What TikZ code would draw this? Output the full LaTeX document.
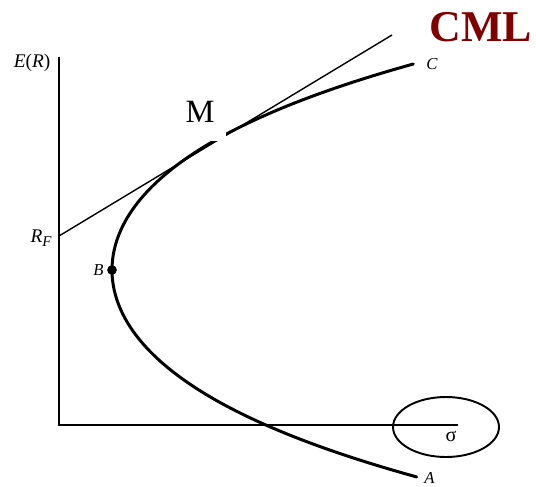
\documentclass[tikz,border=0pt]{standalone}
\usepackage{fontspec}
\setmainfont{Liberation Serif}
\begin{document}
\begin{tikzpicture}[x=0.02cm,y=-0.02cm,
  axisline/.style={line width=1.1pt},
  frontier/.style={line width=1.7pt},
  cmlline/.style={line width=0.8pt},
  lbl/.style={inner sep=0pt, font=\fontsize{9.5pt}{11pt}\selectfont\itshape}]
\useasboundingbox (0,0) rectangle (536,486);
% axes
\coordinate (O) at (59,425);
\coordinate (Ytop) at (59,57);
\coordinate (Xend) at (458,425);
\draw[axisline] (Ytop) -- (O) -- (Xend);
% CML line
\coordinate (RF) at (59,236);
\coordinate (CMLend) at (392,35);
\draw[cmlline] (RF) -- (CMLend);
% frontier
\draw[frontier, line cap=round] plot[domain=-2.06:2.07, samples=120, smooth]
  ({112+54.88*\x*\x+3.8*\x*\x*\x*\x}, {270+100*\x});
\node[circle, fill=black, inner sep=0pt, minimum size=5.5pt] (Bdot) at (112,270) {};
% white label box for M
\fill[white] (176,92) rectangle (226,141);
\node[inner sep=0pt, font=\fontsize{18.5pt}{20pt}\selectfont] (M) at (200,112) {M};
% labels
\node[inner sep=0pt, font=\fontsize{11pt}{13pt}\selectfont] (ER) at (32,63) {\textit{E}(\textit{R})};
\node[inner sep=0pt, font=\fontsize{11pt}{13pt}\selectfont, anchor=east] (RFlbl) at (52,238) {\textit{R}\raisebox{-0.45ex}{\fontsize{8.5pt}{9pt}\selectfont\textit{F}}};
\node[lbl, anchor=east] (B) at (104,270) {B};
\node[lbl, anchor=west] (C) at (426,64) {C};
\node[lbl, anchor=west] (A) at (424,478) {A};
\node[inner sep=0pt, font=\fontsize{11.5pt}{13pt}\selectfont] (sig) at (451,436) {σ};
\draw[line width=1.1pt] (446,427) ellipse [x radius=1.06cm, y radius=0.6cm];
\node[inner sep=0pt, font=\fontsize{25pt}{28pt}\selectfont\bfseries, text={rgb,255:red,128;green,0;blue,0}] (CML) at (481,27) {CML};
\end{tikzpicture}
\end{document}
